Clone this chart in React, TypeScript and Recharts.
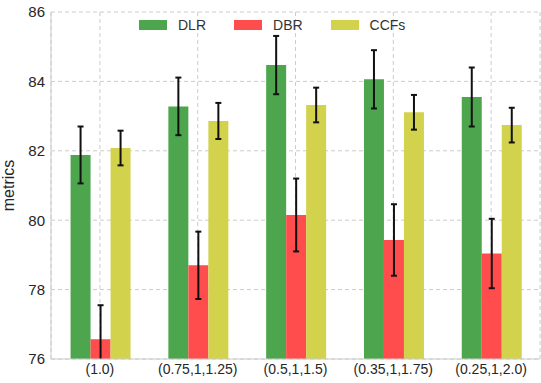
import { BarChart, Bar, XAxis, YAxis, CartesianGrid, ErrorBar, Legend } from 'recharts';

const categories = ['(1.0)', '(0.75,1,1.25)', '(0.5,1,1.5)', '(0.35,1,1.75)', '(0.25,1,2.0)'];
const dlr = [81.88, 83.28, 84.47, 84.06, 83.55];
const dlrErr = [0.82, 0.83, 0.84, 0.84, 0.85];
const dbr = [76.57, 78.70, 80.15, 79.43, 79.04];
const dbrErr = [0.98, 0.97, 1.05, 1.03, 1.0];
const ccfs = [82.08, 82.86, 83.32, 83.11, 82.74];
const ccfsErr = [0.5, 0.52, 0.5, 0.5, 0.5];
const yTicks = [76, 78, 80, 82, 84, 86];

const data = categories.map((name, i) => ({
  name,
  DLR: dlr[i],
  dlrErr: dlrErr[i],
  DBR: dbr[i],
  dbrErr: dbrErr[i],
  CCFs: ccfs[i],
  ccfsErr: ccfsErr[i],
}));

const series = [
  { key: 'DLR', err: 'dlrErr', color: '#4da64d' },
  { key: 'DBR', err: 'dbrErr', color: '#ff4d4d' },
  { key: 'CCFs', err: 'ccfsErr', color: '#d2d24d' },
];

const W = 541;
const H = 383;
const margin = { top: 12, right: 1, bottom: 0, left: 0 };
const yAxisWidth = 51;
const xAxisHeight = 24;

const font = '"Liberation Sans", Arial, sans-serif';
const gray = '#cccccc';

function LegendBox() {
  return (
    <div style={{ display: 'flex', fontFamily: font, fontSize: 14, color: '#333' }}>
      {series.map((s) => (
        <div key={s.key} style={{ display: 'flex', alignItems: 'center', marginRight: 28 }}>
          <span style={{ width: 28, height: 10, background: s.color, marginRight: 11 }} />
          <span>{s.key}</span>
        </div>
      ))}
    </div>
  );
}

export default function App() {
  // error bars are kept inside the plot area, like the bars themselves
  const plotX = margin.left + yAxisWidth;
  const plotY = margin.top;
  const plotW = W - plotX - margin.right;
  const plotH = H - plotY - margin.bottom - xAxisHeight;
  return (
    <div style={{ position: 'absolute', left: 0, top: 0, background: '#fff' }}>
      <svg width={0} height={0} style={{ position: 'absolute' }}>
        <defs>
          <clipPath id="plot-clip" clipPathUnits="userSpaceOnUse">
            <rect x={plotX} y={plotY} width={plotW} height={plotH} />
          </clipPath>
        </defs>
      </svg>
      <style>{'.recharts-errorBar { clip-path: url(#plot-clip); }'}</style>
      <BarChart
        width={W}
        height={H}
        data={data}
        margin={margin}
        barCategoryGap="20%"
        barGap={0}
      >
        <CartesianGrid stroke={gray} strokeDasharray="4 3" />
        <XAxis
          dataKey="name"
          stroke={gray}
          tickLine={false}
          tickSize={0}
          tickMargin={5}
          height={xAxisHeight}
          tick={{ fill: '#262626', fontSize: 14, fontFamily: font }}
        />
        <XAxis xAxisId="top" dataKey="name" orientation="top" stroke={gray} tick={false} tickLine={false} height={0} />
        <YAxis
          domain={[76, 86]}
          ticks={yTicks}
          allowDataOverflow
          stroke={gray}
          tickLine={false}
          tickSize={0}
          tickMargin={6}
          width={yAxisWidth}
          tick={{ fill: '#262626', fontSize: 15, fontFamily: font }}
          label={{
            value: 'metrics',
            angle: -90,
            position: 'insideLeft',
            offset: 8,
            style: { fill: '#262626', fontSize: 16, fontFamily: font, textAnchor: 'middle' },
          }}
        />
        <YAxis yAxisId="right" orientation="right" stroke={gray} tick={false} tickLine={false} width={0} />
        <Legend
          verticalAlign="middle"
          content={<LegendBox />}
          wrapperStyle={{ top: 17, left: 139, width: 320, height: 20 }}
        />
        {series.map((s) => (
          <Bar key={s.key} dataKey={s.key} fill={s.color} isAnimationActive={false}>
            <ErrorBar dataKey={s.err} width={3} stroke="#111" strokeWidth={2} direction="y" />
          </Bar>
        ))}
      </BarChart>
    </div>
  );
}
